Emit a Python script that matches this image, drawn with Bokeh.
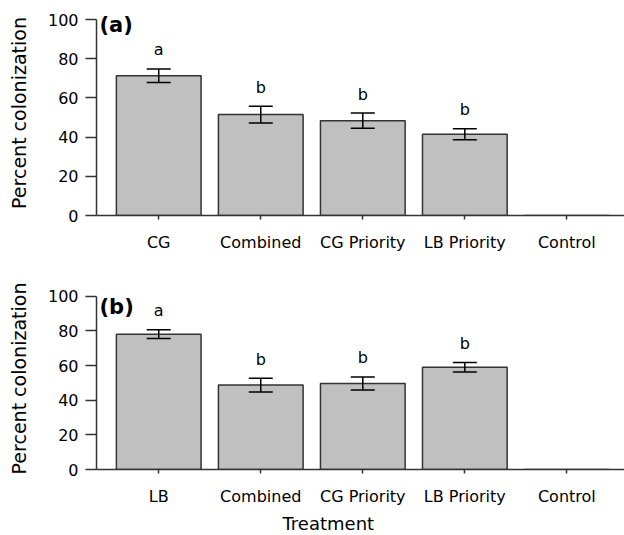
from bokeh.plotting import figure
from bokeh.models import Range1d, ColumnDataSource, Whisker, TeeHead, FixedTicker, Label, Title
from bokeh.layouts import column
from bokeh.embed import file_html
from bokeh.resources import INLINE

# ---- data ----
cats_a = ["CG", "Combined", "CG Priority", "LB Priority", "Control"]
mean_a = [71.3, 51.5, 48.4, 41.5, 0.0]
se_a = [3.5, 4.3, 3.9, 2.8, 0.0]
letters_a = ["a", "b", "b", "b", ""]

cats_b = ["LB", "Combined", "CG Priority", "LB Priority", "Control"]
mean_b = [78.1, 48.7, 49.6, 59.0, 0.0]
se_b = [2.5, 4.0, 3.8, 2.7, 0.0]
letters_b = ["a", "b", "b", "b", ""]

y_ticks = [0, 20, 40, 60, 80, 100]
panel_a = "(a)"
panel_b = "(b)"
x_title = "Treatment"
y_title = "Percent colonization"

FONT = "DejaVu Sans"
AX = "#333333"
X_START, X_END = 0.39, 5.565


def panel(cats, means, ses, letters, tag, tag_y, frame_h, y_end, top_b, bot_b, show_xlabel):
    pos = list(range(1, len(cats) + 1))
    p = figure(
        x_range=Range1d(X_START, X_END),
        y_range=Range1d(0, y_end),
        frame_width=528, frame_height=frame_h,
        min_border_left=96, min_border_right=0,
        min_border_top=top_b, min_border_bottom=bot_b,
        toolbar_location=None, output_backend="svg",
    )
    p.outline_line_color = None
    p.xgrid.grid_line_color = None
    p.ygrid.grid_line_color = None
    p.background_fill_color = "white"

    src = ColumnDataSource(dict(x=pos, top=means))
    p.vbar(x="x", top="top", width=0.83, source=src,
           fill_color="#c0c0c0", line_color=AX, line_width=1.5)

    ex = [c for c, s in zip(pos, ses) if s > 0]
    up = [m + s for m, s in zip(means, ses) if s > 0]
    lo = [m - s for m, s in zip(means, ses) if s > 0]
    lt = [l for l, s in zip(letters, ses) if s > 0]
    esrc = ColumnDataSource(dict(x=ex, upper=up, lower=lo, letter=lt))
    w = Whisker(base="x", upper="upper", lower="lower", source=esrc, dimension="height",
                line_color="black", line_width=1.5, level="overlay",
                upper_head=TeeHead(size=24, line_color="black", line_width=1.5),
                lower_head=TeeHead(size=24, line_color="black", line_width=1.5))
    p.add_layout(w)

    p.text(x="x", y="upper", text="letter", source=esrc, y_offset=-19,
           text_align="center", text_baseline="middle",
           text_font_size="16px", text_color="black", text_font={"value": FONT})

    p.add_layout(Label(x=X_START, y=tag_y, text=tag, text_font=FONT, text_font_size="21px",
                       text_font_style="bold", text_baseline="middle", text_align="left",
                       x_offset=3, text_color="black"))

    xa = p.xaxis[0]
    xa.ticker = FixedTicker(ticks=pos)
    xa.major_label_overrides = {i: c for i, c in zip(pos, cats)}
    xa.axis_line_color = AX
    xa.axis_line_width = 1.5
    xa.major_tick_line_color = AX
    xa.major_tick_line_width = 1.5
    xa.major_tick_out = 4
    xa.major_tick_in = 0
    xa.minor_tick_line_color = None
    xa.major_label_standoff = 13
    xa.major_label_text_font = FONT
    xa.major_label_text_font_size = "16px"
    xa.major_label_text_color = "black"
    if show_xlabel:
        p.add_layout(Title(text=x_title, align="left", offset=186, standoff=4,
                           text_font=FONT, text_font_size="18px", text_font_style="normal",
                           text_color="black"), "below")

    ya = p.yaxis[0]
    ya.ticker = FixedTicker(ticks=y_ticks)
    ya.bounds = (0, 100)
    ya.axis_line_color = AX
    ya.axis_line_width = 1.5
    ya.major_tick_line_color = AX
    ya.major_tick_line_width = 1.5
    ya.major_tick_out = 11
    ya.major_tick_in = 0
    ya.minor_tick_line_color = None
    ya.major_label_standoff = 7
    ya.major_label_text_font = FONT
    ya.major_label_text_font_size = "16px"
    ya.major_label_text_color = "black"
    ya.axis_label = y_title
    ya.axis_label_text_font = FONT
    ya.axis_label_text_font_size = "19px"
    ya.axis_label_text_font_style = "normal"
    ya.axis_label_text_color = "black"
    ya.axis_label_standoff = 15
    return p


pa = panel(cats_a, mean_a, se_a, letters_a, panel_a, 97.2, 205, 104.6, 10, 45, False)
pb = panel(cats_b, mean_b, se_b, letters_b, panel_b, 93.8, 182, 105.0, 27, 61, True)

layout = column(pa, pb, spacing=0)
open("out.html", "w").write(file_html(layout, INLINE))
